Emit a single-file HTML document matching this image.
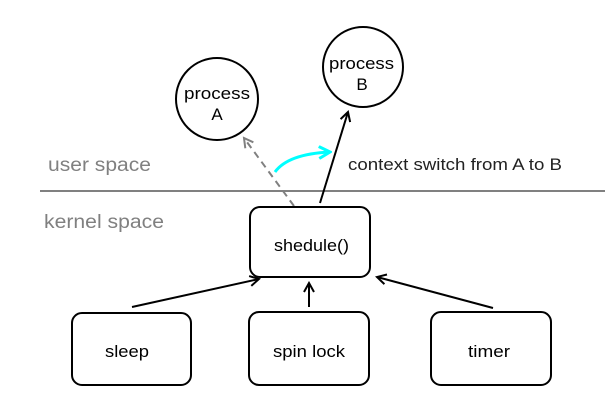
<!DOCTYPE html>
<html><head><style>
html,body{margin:0;padding:0;background:#fff;}
svg{display:block;font-family:"Liberation Sans",sans-serif;}
</style></head><body>
<svg width="610" height="416" viewBox="0 0 610 416">
<defs>
<marker id="ah" markerWidth="12" markerHeight="12" refX="10" refY="6" orient="auto" markerUnits="userSpaceOnUse">
<path d="M1,1 L10,6 L1,11" fill="none" stroke="#000" stroke-width="2"/></marker>
<marker id="ahg" markerWidth="12" markerHeight="12" refX="10" refY="6" orient="auto" markerUnits="userSpaceOnUse">
<path d="M1,1 L10,6 L1,11" fill="none" stroke="#808080" stroke-width="2"/></marker>
<marker id="ahc" markerWidth="14" markerHeight="14" refX="12" refY="7" orient="auto" markerUnits="userSpaceOnUse">
<path d="M1,1 L12,7 L1,13" fill="none" stroke="#00ffff" stroke-width="3"/></marker>
</defs>
<line x1="40" y1="191" x2="605" y2="191" stroke="#808080" stroke-width="2"/>
<text x="48" y="171" font-size="19" fill="#808080" textLength="103" lengthAdjust="spacingAndGlyphs">user space</text>
<text x="44" y="228" font-size="19" fill="#808080" textLength="120" lengthAdjust="spacingAndGlyphs">kernel space</text>
<text x="348" y="170" font-size="17" fill="#222" textLength="214" lengthAdjust="spacingAndGlyphs">context switch from A to B</text>

<circle cx="217" cy="99" r="41" fill="#fff" stroke="#000" stroke-width="2"/>
<text x="184" y="99" font-size="17" textLength="66" lengthAdjust="spacingAndGlyphs">process</text>
<text x="217" y="120" font-size="17" text-anchor="middle">A</text>
<circle cx="363" cy="67" r="40" fill="#fff" stroke="#000" stroke-width="2"/>
<text x="329" y="69" font-size="17" textLength="65" lengthAdjust="spacingAndGlyphs">process</text>
<text x="362" y="90" font-size="17" text-anchor="middle">B</text>

<line x1="294" y1="206" x2="244" y2="138" stroke="#808080" stroke-width="2" stroke-dasharray="7,5" marker-end="url(#ahg)"/>
<line x1="320" y1="203" x2="348" y2="112" stroke="#000" stroke-width="2" marker-end="url(#ah)"/>
<path d="M275,172 Q288,154 330,152" fill="none" stroke="#00ffff" stroke-width="3" marker-end="url(#ahc)"/>

<rect x="250" y="207" width="120" height="70" rx="10" fill="#fff" stroke="#000" stroke-width="2"/>
<text x="274" y="251" font-size="17" textLength="75" lengthAdjust="spacingAndGlyphs">shedule()</text>
<rect x="72" y="313" width="119" height="72" rx="10" fill="#fff" stroke="#000" stroke-width="2"/>
<text x="105" y="357" font-size="17" textLength="44" lengthAdjust="spacingAndGlyphs">sleep</text>
<rect x="249" y="312" width="120" height="73" rx="10" fill="#fff" stroke="#000" stroke-width="2"/>
<text x="273" y="357" font-size="17" textLength="72" lengthAdjust="spacingAndGlyphs">spin lock</text>
<rect x="431" y="312" width="120" height="73" rx="10" fill="#fff" stroke="#000" stroke-width="2"/>
<text x="468" y="357" font-size="17" textLength="42" lengthAdjust="spacingAndGlyphs">timer</text>

<line x1="132" y1="307" x2="259" y2="279" stroke="#000" stroke-width="2" marker-end="url(#ah)"/>
<line x1="309" y1="307" x2="309" y2="283" stroke="#000" stroke-width="2" marker-end="url(#ah)"/>
<line x1="493" y1="308" x2="377" y2="277" stroke="#000" stroke-width="2" marker-end="url(#ah)"/>
</svg>
</body></html>
